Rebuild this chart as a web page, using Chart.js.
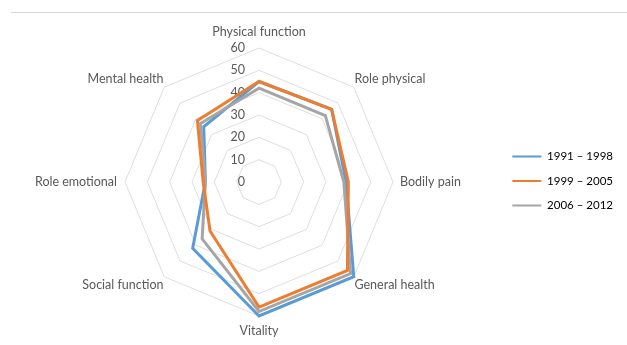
<!DOCTYPE html>
<html>
<head>
<meta charset="utf-8">
<script src="https://cdn.jsdelivr.net/npm/chart.js@4/dist/chart.umd.min.js"></script>
<style>
  html, body { margin: 0; padding: 0; background: #fff; }
</style>
</head>
<body>
<canvas id="myChart" width="627" height="345"></canvas>
<script>
// SF-36 domains, clockwise from the top
var domains = ['Physical function', 'Role physical', 'Bodily pain', 'General health',
               'Vitality', 'Social function', 'Role emotional', 'Mental health'];
var periods = ['1991 \u2013 1998', '1999 \u2013 2005', '2006 \u2013 2012'];
var scores1991 = [45, 46, 39, 60, 60, 42, 24, 35];
var scores1999 = [45, 46, 40, 56, 56, 31, 25, 39];
var scores2006 = [42, 42, 38, 58, 58, 36, 24, 37];
var tickValues = [0, 10, 20, 30, 40, 50, 60];

var colors = ['#5b9bd5', '#ed7d31', '#a5a5a5'];
var textColor = '#595959';
var fontFamily = 'Lato, "Open Sans", sans-serif';

// gap between the outer ring and each domain name (diagonals sit closer)
var labelPadding = [9, 1, 7, 1, 7, 1, 8, 1];

// top border of the chart frame
var framePlugin = {
  id: 'frame',
  beforeDraw: function (chart) {
    var ctx = chart.ctx;
    ctx.save();
    ctx.strokeStyle = '#d9d9d9';
    ctx.lineWidth = 1;
    ctx.beginPath();
    ctx.moveTo(11, 12.5);
    ctx.lineTo(chart.width, 12.5);
    ctx.stroke();
    ctx.restore();
  }
};

// value labels up the top spoke, right aligned just left of it (0 included)
var tickPlugin = {
  id: 'tickLabels',
  beforeDatasetsDraw: function (chart) {
    var scale = chart.scales.r;
    var ctx = chart.ctx;
    ctx.save();
    ctx.font = '12.5px ' + fontFamily;
    ctx.fillStyle = textColor;
    ctx.textAlign = 'right';
    ctx.textBaseline = 'middle';
    tickValues.forEach(function (v) {
      var d = scale.getDistanceFromCenterForValue(v);
      ctx.fillText(String(v), scale.xCenter - 14, scale.yCenter - d);
    });
    ctx.restore();
  }
};

var ctx = document.getElementById('myChart').getContext('2d');
var myChart = new Chart(ctx, {
  type: 'radar',
  data: {
    labels: domains,
    datasets: [
      { label: periods[0], data: scores1991, borderColor: colors[0], order: 2 },
      { label: periods[1], data: scores1999, borderColor: colors[1], order: 0 },
      { label: periods[2], data: scores2006, borderColor: colors[2], order: 1 }
    ].map(function (ds) {
      ds.borderWidth = 3;
      ds.pointRadius = 0;
      ds.pointHoverRadius = 0;
      ds.fill = false;
      ds.backgroundColor = ds.borderColor;
      ds.borderJoinStyle = 'miter';
      return ds;
    })
  },
  options: {
    responsive: false,
    animation: false,
    layout: { padding: { top: 23, bottom: 6, left: 14, right: 4 } },
    plugins: {
      tooltip: { enabled: false },
      legend: {
        position: 'right',
        labels: {
          color: textColor,
          font: { size: 11.5, family: fontFamily },
          boxWidth: 29,
          boxHeight: 2,
          padding: 13,
          generateLabels: function (chart) {
            return chart.data.datasets.map(function (ds, i) {
              return {
                text: ds.label,
                fillStyle: ds.borderColor,
                strokeStyle: ds.borderColor,
                lineWidth: 0,
                datasetIndex: i
              };
            });
          }
        }
      }
    },
    scales: {
      r: {
        min: 0,
        max: 60,
        ticks: { stepSize: 10, display: false },
        grid: { color: '#dedede', lineWidth: 1, circular: false },
        angleLines: { display: false },
        pointLabels: {
          color: textColor,
          font: { size: 12.5, family: fontFamily },
          padding: function (c) { return labelPadding[c.index]; }
        }
      }
    }
  },
  plugins: [framePlugin, tickPlugin]
});
</script>
</body>
</html>
